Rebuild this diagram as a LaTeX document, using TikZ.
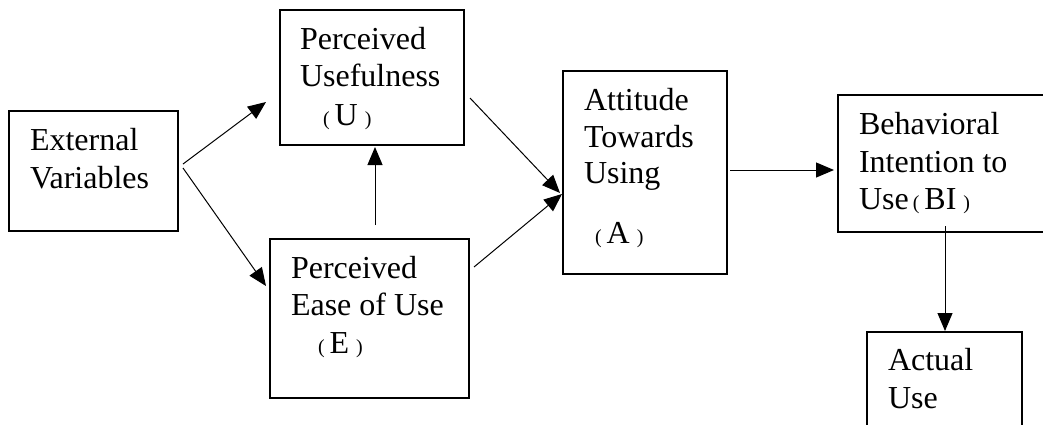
\documentclass[tikz,border=0pt]{standalone}
\usepackage{fontspec}
\setmainfont{Liberation Serif}
\usetikzlibrary{arrows.meta}
\newcommand\smpar[1]{{\fontsize{20}{20}\selectfont(}\hspace{5pt}#1\hspace{7pt}{\fontsize{20}{20}\selectfont)}}
\begin{document}
\begin{tikzpicture}[x=1pt,y=-1pt,
  box/.style={draw=black,line width=1.3pt,inner sep=0pt,outer sep=0pt,rectangle},
  txt/.style={anchor=base west,inner sep=0pt,outer sep=0pt,font=\fontsize{32}{38}\selectfont},
  conn/.style={line width=1pt,-{Triangle[length=18pt,width=15pt]}}]
\useasboundingbox (0,0) rectangle (1043,424);
\clip (0,0) rectangle (1043,424);
% boxes
\node[box,minimum width=169pt,minimum height=120pt] (ext) at (93.5,171) {};
\node[box,minimum width=184pt,minimum height=135pt] (pu) at (372,77.5) {};
\node[box,minimum width=199pt,minimum height=159pt] (pe) at (369.5,318.5) {};
\node[box,minimum width=164pt,minimum height=203pt] (att) at (645,172.5) {};
\node[box,minimum width=222pt,minimum height=137pt] (bi) at (949,163.5) {};
\node[box,minimum width=155pt,minimum height=118pt] (au) at (944.5,391) {};
% texts
\node[txt] (ext1) at (30,150) {External};
\node[txt] (ext2) at (30,188) {Variables};
\node[txt] (pu1) at (300,49) {Perceived};
\node[txt] (pu2) at (300,86) {Usefulness};
\node[txt] (pu3) at (323,125) {\smpar{U}};
\node[txt] (pe1) at (291,278) {Perceived};
\node[txt] (pe2) at (291,315) {Ease of Use};
\node[txt] (pe3) at (318,353) {\smpar{E}};
\node[txt] (att1) at (584,110) {Attitude};
\node[txt] (att2) at (584,147) {Towards};
\node[txt] (att3) at (584,183) {Using};
\node[txt] (att4) at (595,243) {\smpar{A}};
\node[txt] (bi1) at (859,134) {Behavioral};
\node[txt] (bi2) at (859,172) {Intention to};
\node[txt] (bi3) at (859,209) {Use\hspace{4pt}\smpar{BI}};
\node[txt] (au1) at (888,370) {Actual};
\node[txt] (au2) at (888,408) {Use};
% connector end points
\coordinate (ext-a) at (183,164);
\coordinate (ext-b) at (183,168);
\coordinate (pu-in) at (266,102);
\coordinate (pe-in) at (266,286);
\coordinate (pe-up) at (375,225);
\coordinate (pu-dn) at (375,147);
\coordinate (pu-out) at (470,98);
\coordinate (pe-out) at (474,267);
\coordinate (att-in1) at (560,193);
\coordinate (att-in2) at (562,194);
\coordinate (att-out) at (730,170);
\coordinate (bi-in) at (834,170);
\coordinate (bi-out) at (945,226);
\coordinate (au-in) at (945,331);
% connectors
\draw[conn] (ext-a) -- (pu-in);
\draw[conn] (ext-b) -- (pe-in);
\draw[conn] (pe-up) -- (pu-dn);
\draw[conn] (pu-out) -- (att-in1);
\draw[conn] (pe-out) -- (att-in2);
\draw[conn] (att-out) -- (bi-in);
\draw[conn] (bi-out) -- (au-in);
\end{tikzpicture}
\end{document}
